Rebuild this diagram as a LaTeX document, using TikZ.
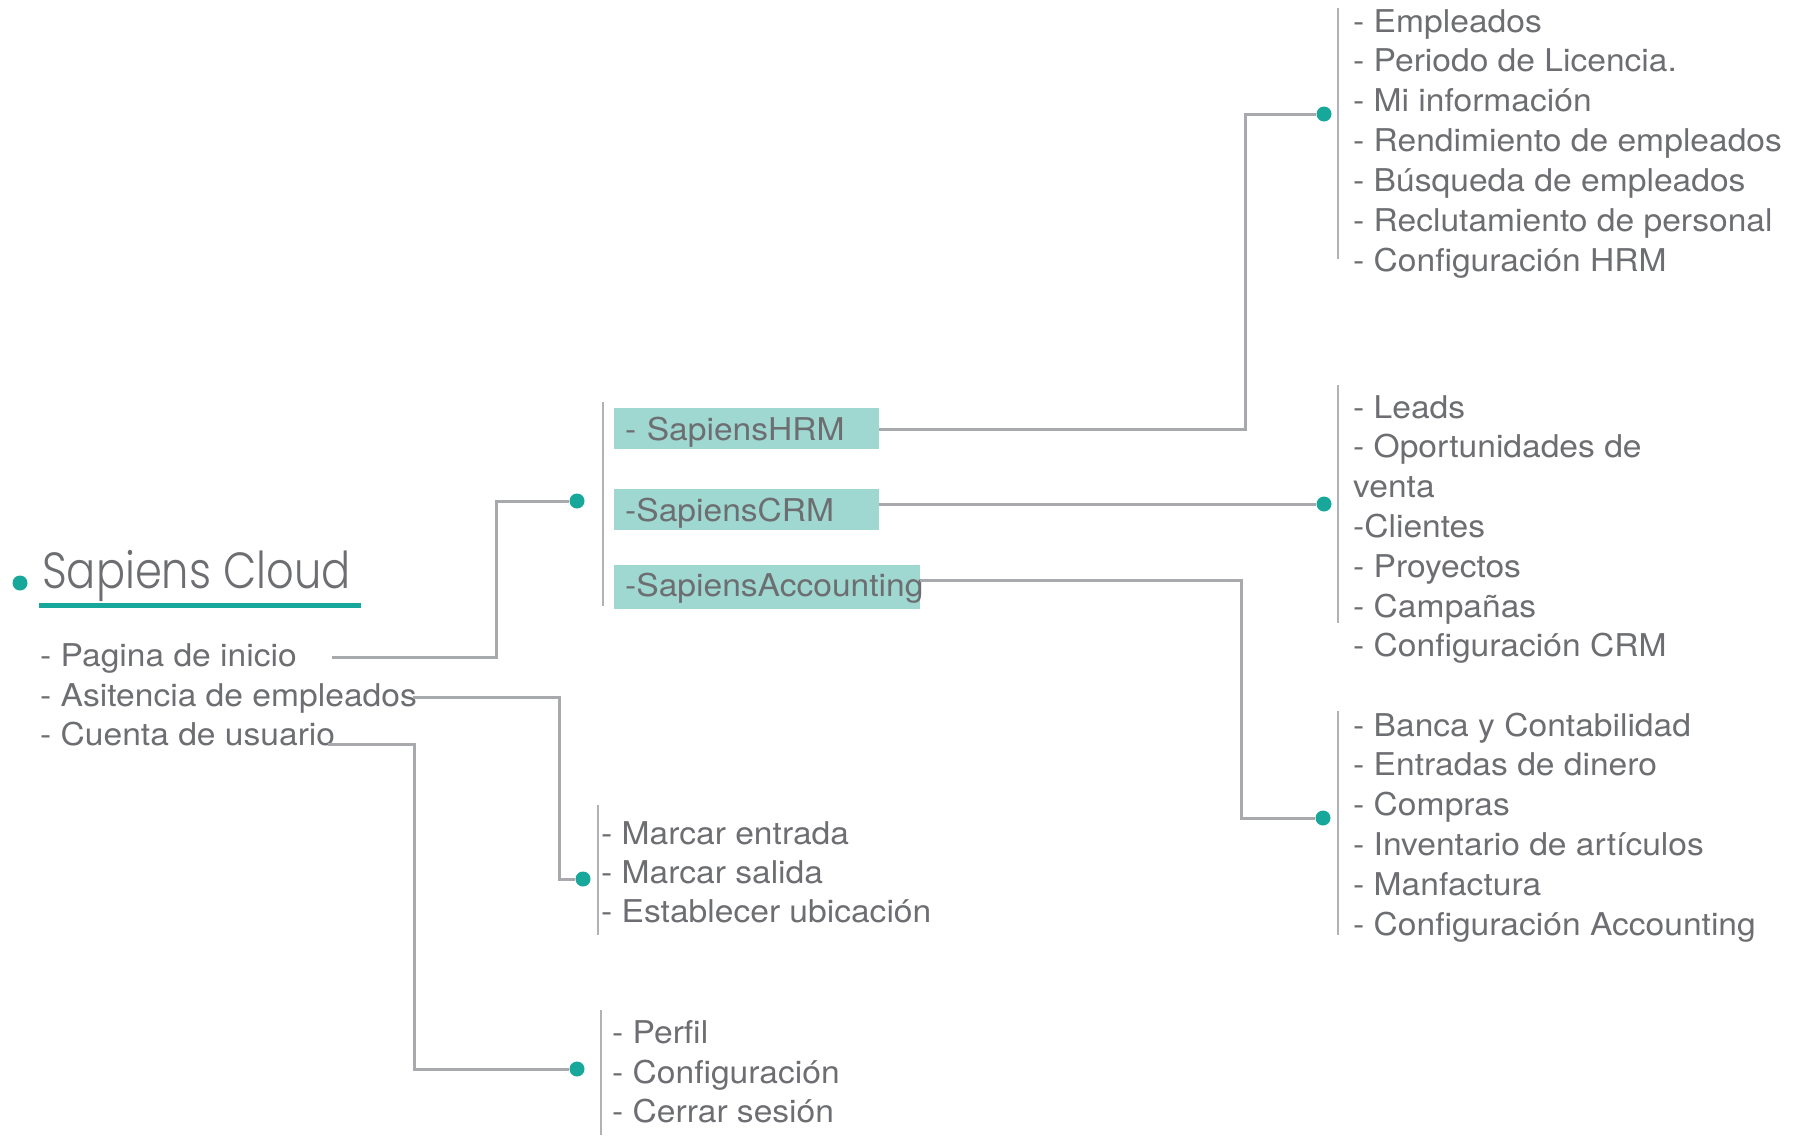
\documentclass[tikz,border=0pt]{standalone}
\usepackage{fontspec}
\setmainfont{TeX Gyre Heros}
\newfontfamily\itemfont{TeX Gyre Heros}[FakeStretch=1.07]
\IfFontExistsTF{Poppins Light}{\newfontfamily\titlefont{Poppins Light}[FakeStretch=0.85]}{\newfontfamily\titlefont{Poppins}[FakeStretch=0.85]}
\definecolor{tealdot}{HTML}{17A89B}
\definecolor{boxfill}{HTML}{9FD8D0}
\definecolor{textgray}{HTML}{6D6E71}
\definecolor{linegray}{HTML}{A7A9AC}
\definecolor{bargray}{HTML}{B0B2B5}
\tikzset{
  item/.style={anchor=base west, inner sep=0pt, text=textgray, font=\itemfont\fontsize{31.5}{40}\selectfont},
  dotnode/.style={circle, fill=tealdot, minimum size=15bp, inner sep=0pt},
  conn/.style={draw=linegray, line width=3bp},
  barline/.style={draw=bargray, line width=2.6bp},
  boxnode/.style={fill=boxfill, anchor=north west, inner xsep=11bp, inner ysep=0pt,
    text height=32bp, text depth=9bp, align=left, text=textgray,
    font=\itemfont\fontsize{31.5}{40}\selectfont},
  titlenode/.style={anchor=base west, inner sep=0pt, text=textgray, font=\titlefont\fontsize{51}{60}\selectfont}
}
\begin{document}
\begin{tikzpicture}[x=1bp,y=-1bp]
\useasboundingbox (0,0) rectangle (1805,1135);

% title
\node[dotnode] (d0) at (20,583) {};
\node[titlenode] (title) at (42,588) {Sapiens Cloud};
\draw[tealdot, line width=5.7bp] (39,605.5) -- (361,605.5);

% left list
\node[item] (pag) at (40,666) {- Pagina de inicio};
\node[item] (asi) at (40,706) {- Asitencia de empleados};
\node[item] (cue) at (40,745) {- Cuenta de usuario};

% module boxes
\draw[barline] (603,402) -- (603,606);
\node[boxnode, text width=243bp] (hrm) at (614,408) {\mbox{- SapiensHRM}};
\node[boxnode, text width=243bp] (crm) at (614,489) {\mbox{-SapiensCRM}};
\node[boxnode, text width=284bp, text height=31bp, text depth=13bp] (acc) at (614,565) {\mbox{-SapiensAccounting}};

% dots
\node[dotnode] (d1) at (577,501) {};
\node[dotnode] (d2) at (583,879) {};
\node[dotnode] (d3) at (577,1069) {};
\node[dotnode] (d4) at (1324,114) {};
\node[dotnode] (d5) at (1324,504) {};
\node[dotnode] (d6) at (1323,818) {};

% attendance list
\draw[barline] (598,805) -- (598,935);
\node[item] (ma1) at (601,844) {- Marcar entrada};
\node[item] (ma2) at (601,883) {- Marcar salida};
\node[item] (ma3) at (601,922) {- Establecer ubicación};

% account list
\draw[barline] (601,1010) -- (601,1135);
\node[item] (pe1) at (612,1043) {- Perfil};
\node[item] (pe2) at (612,1083) {- Configuración};
\node[item] (pe3) at (612,1122) {- Cerrar sesión};

% HRM list
\draw[barline] (1338,8) -- (1338,259);
\foreach \t [count=\i from 0] in {- Empleados,- Periodo de Licencia.,- Mi información,- Rendimiento de empleados,- Búsqueda de empleados,- Reclutamiento de personal,- Configuración HRM}
  \node[item] (h\i) at (1353,{32+39.9*\i}) {\t};

% CRM list
\draw[barline] (1338,385) -- (1338,623);
\foreach \t [count=\i from 0] in {- Leads,- Oportunidades de,venta,-Clientes,- Proyectos,- Campañas,- Configuración CRM}
  \node[item] (c\i) at (1353,{418+39.8*\i}) {\t};

% Accounting list
\draw[barline] (1338,711) -- (1338,935);
\foreach \t [count=\i from 0] in {- Banca y Contabilidad,- Entradas de dinero,- Compras,- Inventario de artículos,- Manfactura,- Configuración Accounting}
  \node[item] (a\i) at (1353,{736+39.8*\i}) {\t};

% connectors
\coordinate (pagS) at (332,657);
\coordinate (asiS) at (413,697);
\coordinate (cueS) at (328,744);
\coordinate (hrmS) at (879,429);
\coordinate (crmS) at (879,504);
\coordinate (accS) at (920,580);
\draw[conn] (pagS) -- (496,657) |- (d1);
\draw[conn] (asiS) -- (559,697) |- (d2);
\draw[conn] (cueS) -- (414,744) |- (d3);
\draw[conn] (hrmS) -- (1245,429) |- (d4);
\draw[conn] (crmS) -- (d5);
\draw[conn] (accS) -- (1241,580) |- (d6);
\end{tikzpicture}
\end{document}
